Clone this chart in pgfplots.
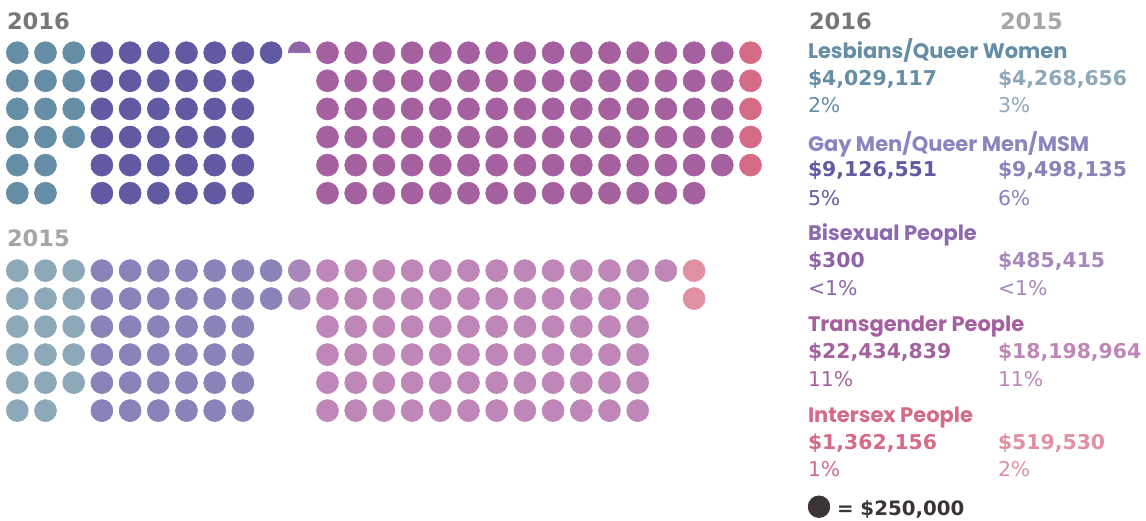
\documentclass[border=0pt]{standalone}
\usepackage{pgfplots}
\pgfplotsset{compat=1.18}
\usepackage{pgfplotstable}
\usepackage{fontspec}
\setmainfont{Poppins}
\newfontfamily\numfont{DejaVu Sans}

% dot colours, 2016 (A) and 2015 (B)
\definecolor{lesA}{HTML}{668DA6}
\definecolor{lesB}{HTML}{8DA8B9}
\definecolor{gayA}{HTML}{5F5AA2}
\definecolor{gayB}{HTML}{8883B9}
\definecolor{biA}{HTML}{8E64A8}
\definecolor{biB}{HTML}{A887BA}
\definecolor{trA}{HTML}{A5619F}
\definecolor{trB}{HTML}{BE87B8}
\definecolor{inA}{HTML}{D56B86}
\definecolor{inB}{HTML}{E090A1}
\definecolor{gayLab}{HTML}{8A86BF}
\definecolor{biLab}{HTML}{8D69AF}
\definecolor{yrA}{HTML}{777777}
\definecolor{yrB}{HTML}{A6A6A6}
\definecolor{keyc}{HTML}{3B3434}

\pgfdeclareplotmark{halfdot}{%
  \pgfpathmoveto{\pgfqpoint{\pgfplotmarksize}{0pt}}%
  \pgfpatharc{0}{180}{\pgfplotmarksize}%
  \pgfpathclose
  \pgfusepathqfillstroke}

% one row per dot: column c, row r (1 = top)
\pgfplotstableread[row sep=\\]{c r\\
1 1\\1 2\\1 3\\1 4\\1 5\\1 6\\2 1\\2 2\\2 3\\2 4\\2 5\\2 6\\3 1\\3 2\\3 3\\3 4\\}\lesA
\pgfplotstableread[row sep=\\]{c r\\
4 1\\4 2\\4 3\\4 4\\4 5\\4 6\\5 1\\5 2\\5 3\\5 4\\5 5\\5 6\\6 1\\6 2\\6 3\\6 4\\6 5\\6 6\\
7 1\\7 2\\7 3\\7 4\\7 5\\7 6\\8 1\\8 2\\8 3\\8 4\\8 5\\8 6\\9 1\\9 2\\9 3\\9 4\\9 5\\9 6\\10 1\\}\gayA
\pgfplotstableread[row sep=\\]{c r\\
12 1\\12 2\\12 3\\12 4\\12 5\\12 6\\13 1\\13 2\\13 3\\13 4\\13 5\\13 6\\14 1\\14 2\\14 3\\14 4\\14 5\\14 6\\
15 1\\15 2\\15 3\\15 4\\15 5\\15 6\\16 1\\16 2\\16 3\\16 4\\16 5\\16 6\\17 1\\17 2\\17 3\\17 4\\17 5\\17 6\\
18 1\\18 2\\18 3\\18 4\\18 5\\18 6\\19 1\\19 2\\19 3\\19 4\\19 5\\19 6\\20 1\\20 2\\20 3\\20 4\\20 5\\20 6\\
21 1\\21 2\\21 3\\21 4\\21 5\\21 6\\22 1\\22 2\\22 3\\22 4\\22 5\\22 6\\23 1\\23 2\\23 3\\23 4\\23 5\\23 6\\
24 1\\24 2\\24 3\\24 4\\24 5\\24 6\\25 1\\25 2\\25 3\\25 4\\25 5\\25 6\\26 1\\26 2\\26 3\\26 4\\26 5\\}\trA
\pgfplotstableread[row sep=\\]{c r\\
27 1\\27 2\\27 3\\27 4\\27 5\\}\inA
\pgfplotstableread[row sep=\\]{c r\\
1 1\\1 2\\1 3\\1 4\\1 5\\1 6\\2 1\\2 2\\2 3\\2 4\\2 5\\2 6\\3 1\\3 2\\3 3\\3 4\\3 5\\}\lesB
\pgfplotstableread[row sep=\\]{c r\\
4 1\\4 2\\4 3\\4 4\\4 5\\4 6\\5 1\\5 2\\5 3\\5 4\\5 5\\5 6\\6 1\\6 2\\6 3\\6 4\\6 5\\6 6\\
7 1\\7 2\\7 3\\7 4\\7 5\\7 6\\8 1\\8 2\\8 3\\8 4\\8 5\\8 6\\9 1\\9 2\\9 3\\9 4\\9 5\\9 6\\10 1\\10 2\\}\gayB
\pgfplotstableread[row sep=\\]{c r\\
11 1\\11 2\\}\biB
\pgfplotstableread[row sep=\\]{c r\\
12 1\\12 2\\12 3\\12 4\\12 5\\12 6\\13 1\\13 2\\13 3\\13 4\\13 5\\13 6\\14 1\\14 2\\14 3\\14 4\\14 5\\14 6\\
15 1\\15 2\\15 3\\15 4\\15 5\\15 6\\16 1\\16 2\\16 3\\16 4\\16 5\\16 6\\17 1\\17 2\\17 3\\17 4\\17 5\\17 6\\
18 1\\18 2\\18 3\\18 4\\18 5\\18 6\\19 1\\19 2\\19 3\\19 4\\19 5\\19 6\\20 1\\20 2\\20 3\\20 4\\20 5\\20 6\\
21 1\\21 2\\21 3\\21 4\\21 5\\21 6\\22 1\\22 2\\22 3\\22 4\\22 5\\22 6\\23 1\\23 2\\23 3\\23 4\\23 5\\23 6\\24 1\\}\trB
\pgfplotstableread[row sep=\\]{c r\\
25 1\\25 2\\}\inB

% grid position of a dot, in pixels of the reference
\newcommand{\XC}{17.3+28.2*(\thisrow{c}-1)}
\newcommand{\YA}{52.7+28.1*(\thisrow{r}-1)}
\newcommand{\YB}{270.6+28.0*(\thisrow{r}-1)}
\pgfplotsset{
  dot/.style={only marks, mark=*, mark size=5.5pt, line width=0.3pt, color=#1},
}
\newcommand{\lab}{\fontsize{10.5}{12}\bfseries}
\newcommand{\val}{\numfont\fontsize{10.2}{12}\bfseries}
\newcommand{\pct}{\numfont\fontsize{10.2}{12}\selectfont}
\newcommand{\yr}{\numfont\fontsize{11.3}{14}\bfseries}

\begin{document}
\begin{tikzpicture}[every node/.style={inner sep=0pt, outer sep=0pt}]
\begin{axis}[
  width=573pt, height=260pt, scale only axis,
  xmin=0, xmax=1146, ymin=0, ymax=520, y dir=reverse,
  hide axis, clip=false,
]
\addplot[dot=lesA] table[x expr=\XC, y expr=\YA] {\lesA};
\addplot[dot=gayA] table[x expr=\XC, y expr=\YA] {\gayA};
\addplot[only marks, mark=halfdot, mark size=5.5pt, line width=0.3pt, color=biA] coordinates {(299.3,52.7)};
\addplot[dot=trA] table[x expr=\XC, y expr=\YA] {\trA};
\addplot[dot=inA] table[x expr=\XC, y expr=\YA] {\inA};
\addplot[dot=lesB] table[x expr=\XC, y expr=\YB] {\lesB};
\addplot[dot=gayB] table[x expr=\XC, y expr=\YB] {\gayB};
\addplot[dot=biB] table[x expr=\XC, y expr=\YB] {\biB};
\addplot[dot=trB] table[x expr=\XC, y expr=\YB] {\trB};
\addplot[dot=inB] table[x expr=\XC, y expr=\YB] {\inB};
% key dot
\addplot[only marks, mark=*, mark size=5.4pt, color=keyc] coordinates {(819,506.7)};

\node[anchor=base west, text=yrA, font=\yr] at (axis cs:7,29) {2016};
\node[anchor=base west, text=yrB, font=\yr] at (axis cs:7,246.7) {2015};
\node[anchor=base west, text=yrA, font=\yr] at (axis cs:809,29.3) {2016};
\node[anchor=base west, text=yrB, font=\yr] at (axis cs:1000,29.3) {2015};

\node[anchor=base west, text=lesA, font=\lab] at (axis cs:808,58.3) {Lesbians/Queer Women};
\node[anchor=base west, text=lesA, font=\val] at (axis cs:808,85) {\$4,029,117};
\node[anchor=base west, text=lesB, font=\val] at (axis cs:998,85) {\$4,268,656};
\node[anchor=base west, text=lesA, font=\pct] at (axis cs:808,112.7) {2\%};
\node[anchor=base west, text=lesB, font=\pct] at (axis cs:998,112.7) {3\%};

\node[anchor=base west, text=gayLab, font=\lab] at (axis cs:808,151) {Gay Men/Queer Men/MSM};
\node[anchor=base west, text=gayA, font=\val] at (axis cs:808,176.7) {\$9,126,551};
\node[anchor=base west, text=gayB, font=\val] at (axis cs:998,176.7) {\$9,498,135};
\node[anchor=base west, text=gayA, font=\pct] at (axis cs:808,205) {5\%};
\node[anchor=base west, text=gayB, font=\pct] at (axis cs:998,205) {6\%};

\node[anchor=base west, text=biLab, font=\lab] at (axis cs:808,240.7) {Bisexual People};
\node[anchor=base west, text=biA, font=\val] at (axis cs:808,267.3) {\$300};
\node[anchor=base west, text=biB, font=\val] at (axis cs:998,267.3) {\$485,415};
\node[anchor=base west, text=biA, font=\pct] at (axis cs:808,295) {<1\%};
\node[anchor=base west, text=biB, font=\pct] at (axis cs:998,295) {<1\%};

\node[anchor=base west, text=trA, font=\lab] at (axis cs:808,331.7) {Transgender People};
\node[anchor=base west, text=trA, font=\val] at (axis cs:808,358.3) {\$22,434,839};
\node[anchor=base west, text=trB, font=\val] at (axis cs:998,358.3) {\$18,198,964};
\node[anchor=base west, text=trA, font=\pct] at (axis cs:808,386) {11\%};
\node[anchor=base west, text=trB, font=\pct] at (axis cs:998,386) {11\%};

\node[anchor=base west, text=inA, font=\lab] at (axis cs:808,422.7) {Intersex People};
\node[anchor=base west, text=inA, font=\val] at (axis cs:808,449.3) {\$1,362,156};
\node[anchor=base west, text=inB, font=\val] at (axis cs:998,449.3) {\$519,530};
\node[anchor=base west, text=inA, font=\pct] at (axis cs:808,476.7) {1\%};
\node[anchor=base west, text=inB, font=\pct] at (axis cs:998,476.7) {2\%};

\node[anchor=base west, text=keyc, font=\numfont\fontsize{9.9}{12}\bfseries] at (axis cs:837,515) {= \$250,000};
\end{axis}
\pgfresetboundingbox
\path (current axis.south west) rectangle (current axis.north east);
\end{tikzpicture}
\end{document}
